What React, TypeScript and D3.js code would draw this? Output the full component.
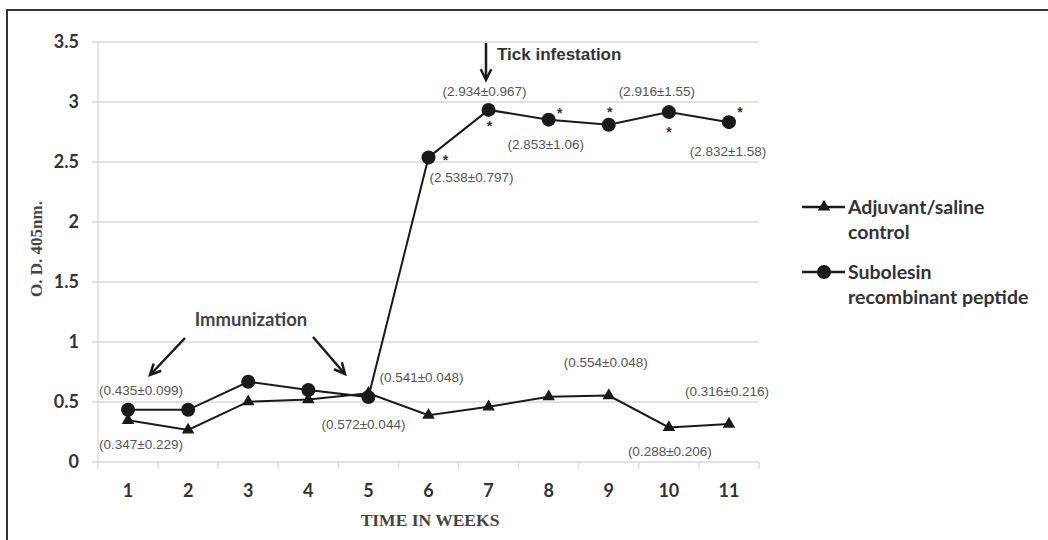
import React from "react";
import * as d3 from "d3";

const weeks = [1, 2, 3, 4, 5, 6, 7, 8, 9, 10, 11];
const controlValues = [0.347, 0.267, 0.503, 0.52, 0.572, 0.39, 0.46, 0.544, 0.554, 0.288, 0.316];
const subolesinValues = [0.435, 0.435, 0.669, 0.6, 0.541, 2.538, 2.934, 2.853, 2.81, 2.916, 2.832];
const yTicks = [0, 0.5, 1, 1.5, 2, 2.5, 3, 3.5];
const seriesNames = ["Adjuvant/saline|control", "Subolesin|recombinant peptide"];

// value annotations: [week, value, text, dx, dy] offsets relative to point
const valueLabels: [number, number, string, number, number][] = [
  [1, 0.435, "(0.435±0.099)", 13, -20],
  [1, 0.347, "(0.347±0.229)", 13, 24],
  [5, 0.572, "(0.572±0.044)", -5, 31],
  [5, 0.541, "(0.541±0.048)", 53, -20],
  [9, 0.554, "(0.554±0.048)", -3, -33],
  [11, 0.316, "(0.316±0.216)", -2, -33],
  [10, 0.288, "(0.288±0.206)", 1, 24],
  [6, 2.538, "(2.538±0.797)", 43, 20],
  [7, 2.934, "(2.934±0.967)", -4, -19],
  [8, 2.853, "(2.853±1.06)", -3, 25],
  [10, 2.916, "(2.916±1.55)", -12, -21],
  [11, 2.832, "(2.832±1.58)", -1, 29],
];
// asterisks: [week, value, dx, dy]
const asterisks: [number, number, number, number][] = [
  [6, 2.538, 17, -1],
  [7, 2.934, 1, 13],
  [8, 2.853, 11, -10],
  [9, 2.81, 1, -16],
  [10, 2.916, 0, 17],
  [11, 2.832, 11, -13],
];

export default function App() {
  const W = 1048, H = 540;
  const left = 98, right = 759, top = 42, bottom = 462;
  const x = d3.scaleBand<number>().domain(weeks).range([left, right]);
  const y = d3.scaleLinear().domain([0, 3.5]).range([bottom, top]);
  const cx = (w: number) => (x(w) as number) + x.bandwidth() / 2;
  const line = d3.line<number>().x((_, i) => cx(weeks[i])).y((v) => y(v));
  const tri = d3.symbol().type(d3.symbolTriangle).size(68);
  const gray = "#d9d9d9";
  const dark = "#1a1a1a";
  const labelFont = "'Liberation Sans', Arial, sans-serif";
  const calibri = "Lato, 'Open Sans', sans-serif";
  const serif = "'Liberation Serif', 'DejaVu Serif', serif";

  const arrowHead = (x1: number, y1: number, x2: number, y2: number) => {
    const a = Math.atan2(y2 - y1, x2 - x1);
    const L = 12, s = 0.45;
    const p1 = [x2 - L * Math.cos(a - s), y2 - L * Math.sin(a - s)];
    const p2 = [x2 - L * Math.cos(a + s), y2 - L * Math.sin(a + s)];
    return `M${p1[0]},${p1[1]}L${x2},${y2}L${p2[0]},${p2[1]}`;
  };

  return (
    <svg width={W} height={H} style={{ position: "absolute", left: 0, top: 0, background: "#fff" }}>
      <rect x={7} y={10} width={1100} height={600} fill="none" stroke="#333" strokeWidth={2} />
      {/* gridlines */}
      {yTicks.map((t) => (
        <g key={t}>
          <line x1={left - 6} x2={right} y1={y(t)} y2={y(t)} stroke={gray} strokeWidth={1.3} />
          <text x={79} y={y(t)} dy="0.36em" textAnchor="end" fontFamily={calibri} fontWeight="bold" fontSize={18} fill="#333">
            {t}
          </text>
        </g>
      ))}
      <line x1={left} x2={left} y1={top} y2={bottom} stroke={gray} strokeWidth={1.3} />
      {/* x ticks */}
      {weeks.concat([12]).map((w, i) => {
        const xx = left + i * x.bandwidth();
        return <line key={"t" + w} x1={xx} x2={xx} y1={bottom} y2={bottom + 7} stroke={gray} strokeWidth={1.3} />;
      })}
      {weeks.map((w) => (
        <text key={"xl" + w} x={cx(w)} y={491} dy="0.36em" textAnchor="middle" fontFamily={calibri} fontWeight="bold" fontSize={18} fill="#333">
          {w}
        </text>
      ))}
      <text x={430} y={520} dy="0.35em" textAnchor="middle" fontFamily={serif} fontWeight="bold" fontSize={17.5} fill="#444">
        TIME IN WEEKS
      </text>
      <text transform="translate(36,249) rotate(-90)" dy="0.35em" textAnchor="middle" fontFamily={serif} fontWeight="bold" fontSize={17} fill="#444">
        O. D. 405nm.
      </text>

      {/* series lines */}
      <path d={line(controlValues) || ""} fill="none" stroke={dark} strokeWidth={2} />
      <path d={line(subolesinValues) || ""} fill="none" stroke={dark} strokeWidth={2} />
      {controlValues.map((v, i) => (
        <path key={"c" + i} d={tri() || ""} transform={`translate(${cx(weeks[i])},${y(v)})`} fill={dark} />
      ))}
      {subolesinValues.map((v, i) => (
        <circle key={"s" + i} cx={cx(weeks[i])} cy={y(v)} r={7} fill={dark} />
      ))}

      {/* value labels */}
      {valueLabels.map(([w, v, t, dx, dy], i) => (
        <text key={"vl" + i} x={cx(w) + dx} y={y(v) + dy} dy="0.35em" textAnchor="middle" fontFamily={labelFont} fontSize={13.5} fill="#555">
          {t}
        </text>
      ))}
      {asterisks.map(([w, v, dx, dy], i) => (
        <text key={"as" + i} x={cx(w) + dx} y={y(v) + dy} dy="0.58em" textAnchor="middle" fontFamily={labelFont} fontWeight="bold" fontSize={14} fill="#333">
          *
        </text>
      ))}

      {/* Tick infestation annotation */}
      <line x1={486} x2={486} y1={43} y2={79} stroke={dark} strokeWidth={2.5} />
      <path d={arrowHead(486, 43, 486, 80)} fill="none" stroke={dark} strokeWidth={2.5} />
      <text x={497} y={54} dy="0.35em" fontFamily={labelFont} fontWeight="bold" fontSize={17} fill="#333">
        Tick infestation
      </text>

      {/* Immunization annotation */}
      <text x={251} y={320} dy="0.35em" textAnchor="middle" fontFamily={calibri} fontWeight="bold" fontSize={18.5} fill="#444">
        Immunization
      </text>
      <line x1={185} y1={338} x2={151} y2={374} stroke={dark} strokeWidth={2.5} />
      <path d={arrowHead(185, 338, 150, 375)} fill="none" stroke={dark} strokeWidth={2.5} />
      <line x1={313} y1={337} x2={344} y2={373} stroke={dark} strokeWidth={2.5} />
      <path d={arrowHead(313, 337, 345, 374)} fill="none" stroke={dark} strokeWidth={2.5} />

      {/* legend */}
      {seriesNames.map((name, i) => {
        const ly = 207 + i * 65;
        const parts = name.split("|");
        return (
          <g key={"lg" + i}>
            <line x1={802} x2={845} y1={ly} y2={ly} stroke={dark} strokeWidth={2.5} />
            {i === 0 ? (
              <path d={tri() || ""} transform={`translate(824,${ly})`} fill={dark} />
            ) : (
              <circle cx={824} cy={ly} r={7} fill={dark} />
            )}
            <text x={848} y={ly} dy="0.35em" fontFamily={calibri} fontWeight="bold" fontSize={19.5} fill="#333">
              {parts[0]}
            </text>
            <text x={848} y={ly + 25} dy="0.35em" fontFamily={calibri} fontWeight="bold" fontSize={19.5} fill="#333">
              {parts[1]}
            </text>
          </g>
        );
      })}
    </svg>
  );
}
